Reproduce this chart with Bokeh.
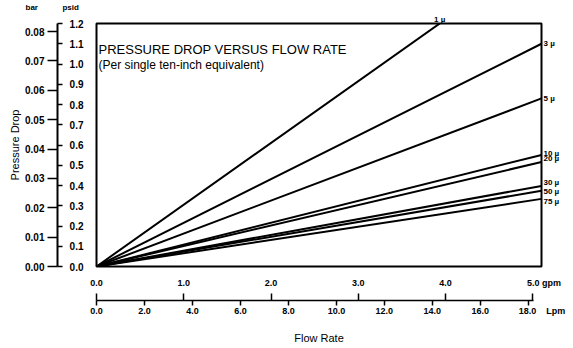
from bokeh.plotting import figure
from bokeh.models import (Range1d, LinearAxis, FixedTicker, PrintfTickFormatter,
                          Label, Title)
from bokeh.embed import file_html
from bokeh.resources import INLINE

# ---------------- data ----------------
flow_gpm = [0.0, 5.1]                       # flow at origin and at right frame edge
filters = ["1 µ", "3 µ", "5 µ", "10 µ", "20 µ", "30 µ", "50 µ", "75 µ"]
dp_1 = [0.0, 1.556]
dp_3 = [0.0, 1.10]
dp_5 = [0.0, 0.83]
dp_10 = [0.0, 0.551]
dp_20 = [0.0, 0.516]
dp_30 = [0.0, 0.398]
dp_50 = [0.0, 0.374]
dp_75 = [0.0, 0.334]
series = [dp_1, dp_3, dp_5, dp_10, dp_20, dp_30, dp_50, dp_75]

psid_ticks = [0.0, 0.1, 0.2, 0.3, 0.4, 0.5, 0.6, 0.7, 0.8, 0.9, 1.0, 1.1, 1.2]
bar_ticks = [0.00, 0.01, 0.02, 0.03, 0.04, 0.05, 0.06, 0.07, 0.08]
gpm_ticks = [0.0, 1.0, 2.0, 3.0, 4.0, 5.0]
lpm_ticks = [0.0, 2.0, 4.0, 6.0, 8.0, 10.0, 12.0, 14.0, 16.0, 18.0]
PSI_PER_BAR = 14.5038

# ---------------- layout / style ----------------
GPM_END = 5.1
PSI_END = 1.2
LPM_END = 18.55
FONT = "Liberation Sans"
NB = "\u00a0"

p = figure(width=571, height=346, x_range=Range1d(0, GPM_END), y_range=Range1d(0, PSI_END),
           output_backend="svg", toolbar_location=None,
           x_axis_location=None, y_axis_location=None,
           min_border_left=96, min_border_right=30, min_border_top=22, min_border_bottom=80)
p.grid.visible = False
p.outline_line_color = "black"
p.outline_line_width = 2
p.background_fill_color = "white"
p.border_fill_color = "white"

def label_style(size="10px", bold=True):
    return dict(major_label_text_font=FONT,
                major_label_text_font_style="bold" if bold else "normal",
                major_label_text_font_size=size, major_label_text_color="black")

bare = dict(axis_line_color=None, major_tick_line_color=None, minor_tick_line_color=None,
            major_tick_out=0, major_tick_in=0, minor_tick_out=0, minor_tick_in=0)

# psid labels (inner left axis: labels only, with a small spacer label)
ax_psid = LinearAxis(ticker=FixedTicker(ticks=psid_ticks),
                     formatter=PrintfTickFormatter(format="%.1f"),
                     major_label_standoff=13,
                     axis_label=" ", axis_label_standoff=0, axis_label_text_font_size="6px",
                     **bare, **label_style("10px"))
p.add_layout(ax_psid, "left")

# bar axis (outer left axis; its minor ticks mark the psid values)
p.extra_y_ranges = {"bar": Range1d(0, PSI_END / PSI_PER_BAR)}
ax_bar = LinearAxis(y_range_name="bar",
                    ticker=FixedTicker(ticks=bar_ticks,
                                       minor_ticks=[t / PSI_PER_BAR for t in psid_ticks]),
                    formatter=PrintfTickFormatter(format="%.2f"),
                    bounds=(0, PSI_END / PSI_PER_BAR),
                    axis_line_width=2, axis_line_color="black",
                    major_tick_out=10, major_tick_in=0, major_tick_line_width=1.5,
                    minor_tick_in=5, minor_tick_out=0, minor_tick_line_width=1.5,
                    minor_tick_line_color="black",
                    major_label_standoff=3,
                    axis_label="Pressure Drop", axis_label_standoff=1,
                    axis_label_text_font=FONT, axis_label_text_font_style="normal",
                    axis_label_text_font_size="11px", axis_label_text_color="black",
                    **label_style("10px"))
p.add_layout(ax_bar, "left")

# gpm labels (inner bottom axis: labels only, with spacer label)
gpm_over = {gpm_ticks[-1]: NB * 9 + "%.1f" % gpm_ticks[-1] + NB + "gpm"}
ax_gpm = LinearAxis(ticker=FixedTicker(ticks=gpm_ticks),
                    formatter=PrintfTickFormatter(format="%.1f"),
                    major_label_overrides=gpm_over,
                    major_label_standoff=11,
                    axis_label=" ", axis_label_standoff=0, axis_label_text_font_size="7px",
                    **bare, **label_style("9px"))
p.add_layout(ax_gpm, "below")

# Lpm axis (outer bottom axis; its minor ticks mark the gpm values)
p.extra_x_ranges = {"lpm": Range1d(0, LPM_END)}
lpm_over = {lpm_ticks[-1]: NB * 11 + "%.1f" % lpm_ticks[-1] + NB * 4 + "Lpm"}
ax_lpm = LinearAxis(x_range_name="lpm",
                    ticker=FixedTicker(ticks=lpm_ticks,
                                       minor_ticks=[g * LPM_END / GPM_END for g in gpm_ticks]),
                    formatter=PrintfTickFormatter(format="%.1f"),
                    major_label_overrides=lpm_over,
                    bounds=(0, 18.2),
                    axis_line_width=1.5, axis_line_color="black",
                    major_tick_out=5, major_tick_in=0, major_tick_line_width=1.5,
                    minor_tick_in=7, minor_tick_out=0, minor_tick_line_width=1.5,
                    minor_tick_line_color="black",
                    major_label_standoff=0,
                    axis_label="Flow Rate", axis_label_standoff=13,
                    axis_label_text_font=FONT, axis_label_text_font_style="normal",
                    axis_label_text_font_size="11px", axis_label_text_color="black",
                    **label_style("9px"))
p.add_layout(ax_lpm, "below")

# series names at the right end of each line (right axis, labels only)
label_nudge = [0.0, 0.0, 0.005, 0.015, 0.015, -0.005, -0.014]
right_ticks = [round(s[-1] + d, 4) for s, d in zip(series[1:], label_nudge)]
ax_right = LinearAxis(ticker=FixedTicker(ticks=right_ticks),
                      major_label_overrides={t: n for t, n in zip(right_ticks, filters[1:])},
                      major_label_standoff=2,
                      **bare, **label_style("8px"))
p.add_layout(ax_right, "right")

# "1 µ" where that line leaves through the top of the frame (top axis, label only)
cross_1 = round(PSI_END * flow_gpm[-1] / dp_1[-1], 4)
ax_top = LinearAxis(ticker=FixedTicker(ticks=[cross_1]),
                    major_label_overrides={cross_1: filters[0]},
                    major_label_standoff=0,
                    **bare, **label_style("8px"))
p.add_layout(ax_top, "above")

# unit captions above the two left scales
p.add_layout(Title(text="bar" + NB * 11 + "psid", align="left", offset=-71, standoff=0,
                   text_font=FONT, text_font_style="bold", text_font_size="8px",
                   text_color="black"), "above")

# lines
for dp in series:
    p.line(flow_gpm, dp, line_color="black", line_width=2)

# titles inside the frame
p.add_layout(Label(x=0.023, y=1.071, text="PRESSURE DROP VERSUS FLOW RATE",
                   text_align="left", text_baseline="alphabetic",
                   text_font=FONT, text_font_size="13px", text_color="black"))
p.add_layout(Label(x=0.023, y=0.996, text="(Per single ten-inch equivalent)",
                   text_align="left", text_baseline="alphabetic",
                   text_font=FONT, text_font_size="12px", text_color="black"))

open("out.html", "w").write(file_html(p, INLINE))
